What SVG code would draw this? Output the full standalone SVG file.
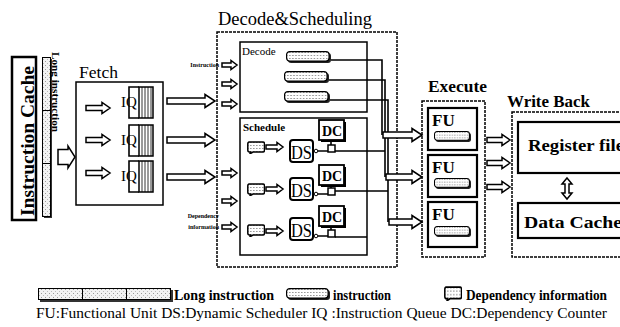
<svg xmlns="http://www.w3.org/2000/svg" xmlns:xlink="http://www.w3.org/1999/xlink" width="620" height="327" viewBox="0 0 620 327">
<style>
.t{font-family:"Liberation Serif","Times New Roman",serif;fill:#000}
.b{font-weight:bold}
.box{fill:none;stroke:#000;stroke-width:1.5}
.dot{fill:none;stroke:#000;stroke-width:1.5;stroke-dasharray:3 1}
.thick{fill:#fff;stroke:#000;stroke-width:2.2}
.arr{fill:#fff;stroke:#000;stroke-width:1.5}
.wire{fill:none;stroke:#000;stroke-width:1.6}
.stripe{stroke:#000;stroke-width:0.8}
</style>
<defs>
<pattern id="dots" width="3" height="3" patternUnits="userSpaceOnUse">
<rect width="3" height="3" fill="#fff"/>
<rect x="0" y="1" width="1.6" height="1" fill="#9a9a9a"/>
</pattern>
<pattern id="bar" width="4" height="4" patternUnits="userSpaceOnUse">
<rect width="4" height="4" fill="#f2f2f2"/>
<rect x="1" y="1" width="1" height="1" fill="#999"/>
<rect x="3" y="3" width="1" height="1" fill="#bbb"/>
</pattern>
<symbol id="instr" viewBox="0 0 44 12" preserveAspectRatio="none">
<rect x="2" y="2" width="42" height="10" rx="3" fill="#222"/>
<rect x="0.6" y="0.6" width="41.5" height="9.5" rx="3" fill="url(#dots)" stroke="#000" stroke-width="1.2"/>
</symbol>
<symbol id="dep" viewBox="0 0 18 13" preserveAspectRatio="none">
<path d="M1.5,1 H16 Q17.5,1 17.5,3 V9 Q17.5,11 16,11 H6 L3,12.8 L3.5,11 H2.5 Q0.8,11 0.8,9 V3 Q0.8,1 2.5,1 Z" fill="url(#dots)" stroke="#000" stroke-width="1.5"/>
</symbol>
</defs>

<g id="instruction-cache">
<rect x="12" y="57" width="24" height="163" fill="#fff" stroke="#000" stroke-width="2.5"/>
<text class="t b" font-size="18" text-anchor="middle" textLength="150" lengthAdjust="spacingAndGlyphs" transform="translate(34,141) rotate(-90)">Instruction Cache</text>
</g>

<g id="long-instruction-bar">
<rect x="44" y="59" width="8" height="159" fill="#333"/>
<rect x="42.5" y="57.5" width="8" height="53" fill="url(#bar)" stroke="#000" stroke-width="1"/>
<rect x="42.5" y="110.5" width="8" height="53" fill="url(#bar)" stroke="#000" stroke-width="1"/>
<rect x="42.5" y="163.5" width="8" height="53" fill="url(#bar)" stroke="#000" stroke-width="1"/>
<text class="t b" font-size="10" textLength="80" lengthAdjust="spacingAndGlyphs" transform="translate(52,52) rotate(90)">Long instruction</text>
</g>

<g id="fetch">
<text class="t" x="79" y="78" font-size="17" textLength="39" lengthAdjust="spacingAndGlyphs">Fetch</text>
<rect class="box" x="76" y="82" width="87" height="123"/>
<g id="iq1">
<path class="wire" d="M139,87 H129 V118 H139"/>
<rect x="139" y="87" width="14" height="31" fill="#fff" stroke="#000" stroke-width="1.5"/>
<path class="stripe" d="M142,87V118M145,87V118M148,87V118M151,87V118"/>
<text class="t" x="121" y="107" font-size="15">IQ</text>
</g>
<g id="iq2">
<path class="wire" d="M139,125 H129 V156 H139"/>
<rect x="139" y="125" width="14" height="31" fill="#fff" stroke="#000" stroke-width="1.5"/>
<path class="stripe" d="M142,125V156M145,125V156M148,125V156M151,125V156"/>
<text class="t" x="121" y="145" font-size="15">IQ</text>
</g>
<g id="iq3">
<path class="wire" d="M139,161 H129 V192 H139"/>
<rect x="139" y="161" width="14" height="31" fill="#fff" stroke="#000" stroke-width="1.5"/>
<path class="stripe" d="M142,161V192M145,161V192M148,161V192M151,161V192"/>
<text class="t" x="121" y="181" font-size="15">IQ</text>
</g>
</g>

<g id="decode-scheduling">
<text class="t" x="218" y="25" font-size="18" textLength="154" lengthAdjust="spacingAndGlyphs">Decode&amp;Scheduling</text>
<rect class="dot" x="217" y="32" width="180" height="235"/>
<text class="t b" x="219" y="67" font-size="6" text-anchor="end">Instruction</text>
<text class="t b" x="219" y="218" font-size="6" text-anchor="end">Dependency</text>
<text class="t b" x="219" y="229" font-size="6" text-anchor="end">information</text>
</g>

<g id="decode">
<rect class="box" x="240" y="42" width="127" height="70" stroke-width="2"/>
<text class="t" x="242" y="55" font-size="11">Decode</text>
<use xlink:href="#instr" x="286" y="51" width="45" height="12"/>
<use xlink:href="#instr" x="284" y="71" width="45" height="12"/>
<use xlink:href="#instr" x="284" y="91" width="46" height="12"/>
</g>

<g id="schedule">
<rect class="box" x="240" y="118" width="127" height="137"/>
<text class="t b" x="243" y="131" font-size="11">Schedule</text>
<g id="row1">
<use xlink:href="#dep" x="247" y="141" width="18" height="13"/>
<rect x="321" y="122" width="25" height="20" fill="#000"/>
<rect x="319" y="120" width="25" height="20" fill="#fff" stroke="#000" stroke-width="1.8"/>
<text class="t b" x="322" y="136" font-size="14">DC</text>
<rect x="290" y="140" width="23" height="22" rx="3" fill="#fff" stroke="#000" stroke-width="2"/>
<text class="t" x="291" y="159" font-size="18" textLength="21" lengthAdjust="spacingAndGlyphs">DS</text>
</g>
<g id="row2">
<use xlink:href="#dep" x="247" y="183" width="18" height="13"/>
<rect x="321" y="167" width="25" height="20" fill="#000"/>
<rect x="319" y="165" width="25" height="20" fill="#fff" stroke="#000" stroke-width="1.8"/>
<text class="t b" x="322" y="181" font-size="14">DC</text>
<rect x="290" y="178" width="23" height="22" rx="3" fill="#fff" stroke="#000" stroke-width="2"/>
<text class="t" x="291" y="197" font-size="18" textLength="21" lengthAdjust="spacingAndGlyphs">DS</text>
</g>
<g id="row3">
<use xlink:href="#dep" x="247" y="224" width="18" height="13"/>
<rect x="321" y="208" width="25" height="20" fill="#000"/>
<rect x="319" y="206" width="25" height="20" fill="#fff" stroke="#000" stroke-width="1.8"/>
<text class="t b" x="322" y="222" font-size="14">DC</text>
<rect x="290" y="218" width="23" height="22" rx="3" fill="#fff" stroke="#000" stroke-width="2"/>
<text class="t" x="291" y="237" font-size="18" textLength="21" lengthAdjust="spacingAndGlyphs">DS</text>
</g>
</g>

<g id="execute">
<text class="t b" x="428" y="92" font-size="17" textLength="59" lengthAdjust="spacingAndGlyphs">Execute</text>
<rect class="dot" x="422" y="101" width="63" height="156"/>
<g id="fu1">
<rect class="thick" x="428" y="108" width="49" height="42"/>
<text class="t b" x="432" y="126" font-size="17">FU</text>
<use xlink:href="#instr" x="434" y="131" width="37" height="11"/>
</g>
<g id="fu2">
<rect class="thick" x="428" y="155" width="49" height="42"/>
<text class="t b" x="432" y="173" font-size="17">FU</text>
<use xlink:href="#instr" x="434" y="178" width="37" height="11"/>
</g>
<g id="fu3">
<rect class="thick" x="428" y="202" width="49" height="45"/>
<text class="t b" x="432" y="220" font-size="17">FU</text>
<use xlink:href="#instr" x="434" y="226" width="37" height="11"/>
</g>
</g>

<g id="write-back">
<text class="t b" x="507" y="107" font-size="17" textLength="83" lengthAdjust="spacingAndGlyphs">Write Back</text>
<rect class="dot" x="512" y="112" width="112" height="145"/>
<g id="register-file">
<rect x="518" y="122" width="106" height="51" fill="#fff" stroke="#000" stroke-width="2.2"/>
<text class="t b" x="528" y="151" font-size="17" textLength="96" lengthAdjust="spacingAndGlyphs">Register file</text>
</g>
<g id="data-cache">
<rect x="518" y="203" width="106" height="35" fill="#fff" stroke="#000" stroke-width="2.2"/>
<text class="t b" x="524" y="228" font-size="17" textLength="98" lengthAdjust="spacingAndGlyphs">Data Cache</text>
</g>
</g>

<g id="connectors">
<path class="arr" d="M58,149.5 H68 V146 L75,157 L68,168 V164.5 H58 Z" stroke-width="2"/>
<path class="arr" d="M86,105.5 H102 V102.5 L110,108 L102,113.5 V110.5 H86 Z"/>
<path class="arr" d="M86,137.5 H102 V134.5 L110,140 L102,145.5 V142.5 H86 Z"/>
<path class="arr" d="M86,170.5 H102 V167.5 L110,173 L102,178.5 V175.5 H86 Z"/>
<path class="arr" d="M167,98 H205 V94.5 L215,101 L205,107.5 V104 H167 Z"/>
<path class="arr" d="M167,137 H205 V133.5 L215,140 L205,146.5 V143 H167 Z"/>
<path class="arr" d="M167,174 H205 V170.5 L215,177 L205,183.5 V180 H167 Z"/>
<path class="arr" d="M222,63 H231 V60.5 L237,65 L231,69.5 V67 H222 Z"/>
<path class="arr" d="M222,82 H231 V79.5 L237,84 L231,88.5 V86 H222 Z"/>
<path class="arr" d="M222,102 H231 V99.5 L237,104 L231,108.5 V106 H222 Z"/>
<path class="arr" d="M222,171 H231 V168.5 L237,173 L231,177.5 V175 H222 Z"/>
<path class="arr" d="M222,199 H231 V196.5 L237,201 L231,205.5 V203 H222 Z"/>
<path class="arr" d="M222,225 H231 V222.5 L237,227 L231,231.5 V229 H222 Z"/>
<path class="arr" d="M266,145 H277 V142.5 L283,147 L277,151.5 V149 H266 Z"/>
<path class="arr" d="M266,187 H277 V184.5 L283,189 L277,193.5 V191 H266 Z"/>
<path class="arr" d="M266,229 H277 V226.5 L283,231 L277,235.5 V233 H266 Z"/>
<path class="wire" d="M331,60 H382 V135"/>
<path class="wire" d="M329,80 H385 V177"/>
<path class="wire" d="M330,100 H388 V222"/>
<g id="dsdc-links">
<circle cx="316" cy="151" r="1.8" fill="#fff" stroke="#000"/>
<path class="wire" d="M318,151 H328 M331,145 V141 M335,151 H385"/>
<rect x="328" y="145" width="7" height="7" fill="#fff" stroke="#000" stroke-width="1.5"/>
<circle cx="316" cy="194" r="1.8" fill="#fff" stroke="#000"/>
<path class="wire" d="M318,194 H328 M331,188 V186 M335,191 H388"/>
<rect x="328" y="188" width="7" height="7" fill="#fff" stroke="#000" stroke-width="1.5"/>
<circle cx="316" cy="236" r="1.8" fill="#fff" stroke="#000"/>
<path class="wire" d="M318,236 H328 M331,230 V227 M335,237 H367"/>
<rect x="328" y="230" width="7" height="7" fill="#fff" stroke="#000" stroke-width="1.5"/>
</g>
<path class="arr" d="M383,132 H412 V128.5 L422,135 L412,141.5 V138 H383 Z"/>
<path class="arr" d="M386,174 H412 V170.5 L422,177 L412,183.5 V180 H386 Z"/>
<path class="arr" d="M389,219 H412 V215.5 L422,222 L412,228.5 V225 H389 Z"/>
<path class="arr" d="M487,137.5 H502 V134.5 L510,140 L502,145.5 V142.5 H487 Z"/>
<path class="arr" d="M487,160.5 H502 V157.5 L510,163 L502,168.5 V165.5 H487 Z"/>
<path class="arr" d="M487,184.5 H502 V181.5 L510,187 L502,192.5 V189.5 H487 Z"/>
<path class="arr" d="M567,178 L572,184 H569 V193 H572 L567,199 L562,193 H565 V184 H562 Z"/>
</g>

<g id="legend">
<rect x="40" y="290" width="133" height="12" fill="#333"/>
<rect x="38.5" y="288.5" width="44" height="11" fill="url(#bar)" stroke="#000"/>
<rect x="82.5" y="288.5" width="44" height="11" fill="url(#bar)" stroke="#000"/>
<rect x="126.5" y="288.5" width="44" height="11" fill="url(#bar)" stroke="#000"/>
<text class="t b" x="174" y="300" font-size="14" textLength="100" lengthAdjust="spacingAndGlyphs">Long instruction</text>
<use xlink:href="#instr" x="286" y="288" width="44" height="12"/>
<text class="t b" x="333" y="300" font-size="14" textLength="58" lengthAdjust="spacingAndGlyphs">instruction</text>
<use xlink:href="#dep" x="444" y="286" width="18" height="15"/>
<text class="t b" x="466" y="300" font-size="14" textLength="141" lengthAdjust="spacingAndGlyphs">Dependency information</text>
<text class="t" x="36" y="318" font-size="15" textLength="571" lengthAdjust="spacingAndGlyphs">FU:Functional Unit DS:Dynamic Scheduler IQ :Instruction Queue DC:Dependency Counter</text>
</g>
</svg>
